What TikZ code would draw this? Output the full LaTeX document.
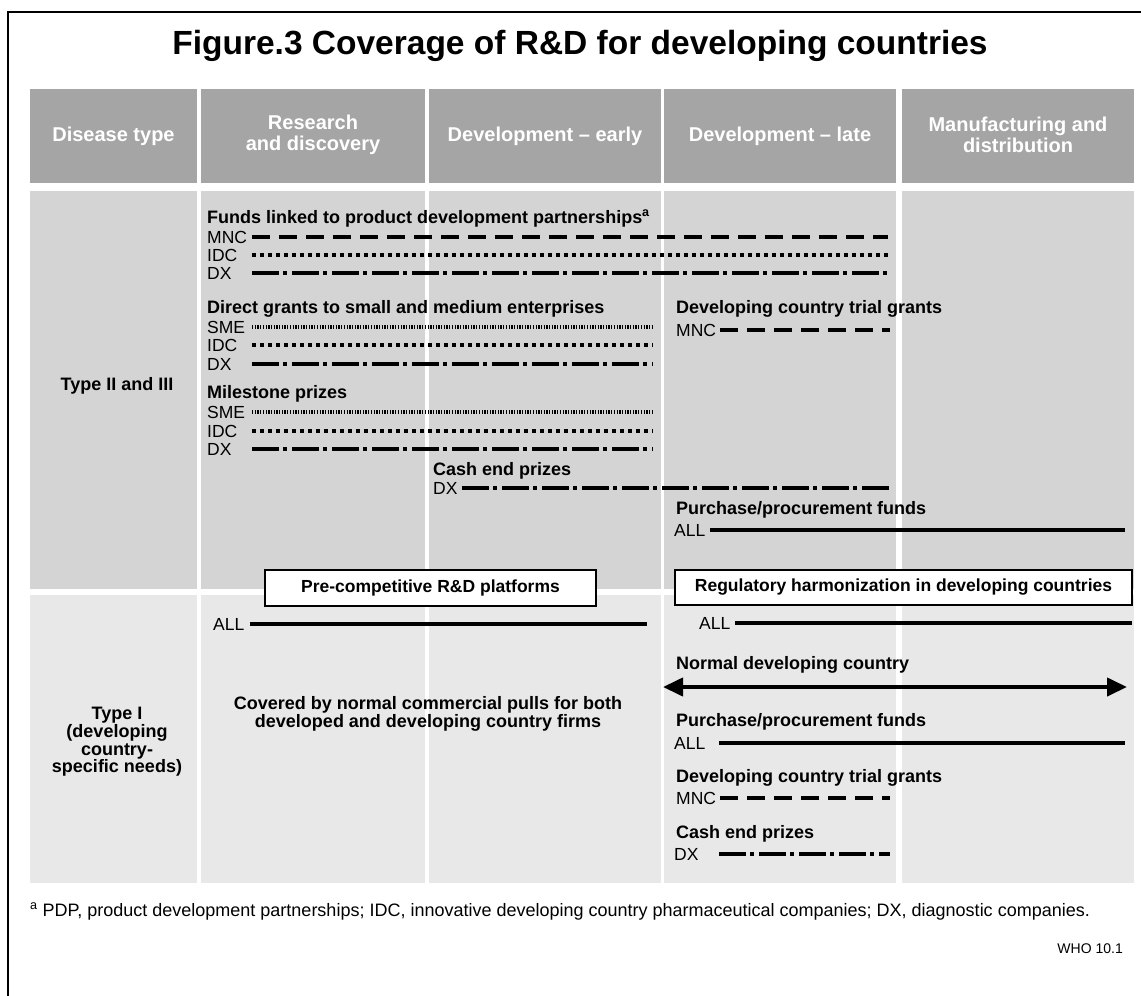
\documentclass[tikz,border=0pt]{standalone}
\usepackage{fontspec}
\setmainfont{Liberation Sans}
\usetikzlibrary{arrows.meta}
\definecolor{hdrgray}{HTML}{A5A5A5}
\definecolor{midgray}{HTML}{D4D4D4}
\definecolor{palegray}{HTML}{E8E8E8}
\tikzset{
  cellhead/.style={fill=hdrgray},
  celltwo/.style={fill=midgray},
  cellone/.style={fill=palegray},
  hdtext/.style={text=white,align=center,inner sep=0pt,font=\fontsize{20}{21.5}\selectfont\bfseries},
  rowtext/.style={align=center,inner sep=0pt,font=\fontsize{18}{17.7}\selectfont\bfseries},
  grptitle/.style={anchor=base west,inner sep=0pt,font=\fontsize{18}{20}\selectfont\bfseries},
  lab/.style={anchor=west,inner sep=0pt,font=\fontsize{17.5}{20}\selectfont},
  mncline/.style={line width=4pt,dash pattern=on 18pt off 9pt},
  idcline/.style={line width=4pt,dash pattern=on 4pt off 4pt},
  smeline/.style={line width=4pt,dash pattern=on 1.3pt off 1.4pt},
  dxline/.style={line width=4pt,dash pattern=on 27pt off 4pt on 4pt off 5pt},
  allline/.style={line width=4pt},
  platbox/.style={draw,line width=2.5pt,fill=white,inner sep=0pt,font=\fontsize{17.5}{20}\selectfont\bfseries}
}
\begin{document}
\begin{tikzpicture}[x=1pt,y=-1pt]
	\useasboundingbox[fill=white] (0,0) rectangle (1141,996);
	% frame and title
	\draw[line width=2pt] (8,996) -- (8,12) -- (1141,12);
	\node[anchor=base,inner sep=0pt,font=\fontsize{33.5}{36}\selectfont\bfseries] (ttl) at (580,54) {Figure.3 Coverage of R\&D for developing countries};
	% table cells
	\foreach \xa/\xb in {30/197,201/425,429/661,664/896,902/1134} {
		\fill[cellhead] (\xa,89) rectangle (\xb,183);
		\fill[celltwo] (\xa,191) rectangle (\xb,589);
		\fill[cellone] (\xa,595) rectangle (\xb,883);
	}
	\node[hdtext] (hdis) at (113.5,136) {Disease type};
	\node[hdtext] (hres) at (313,135) {Research\\and discovery};
	\node[hdtext] (hearly) at (545,136) {Development -- early};
	\node[hdtext] (hlate) at (780,136) {Development -- late};
	\node[hdtext] (hman) at (1018,135) {Manufacturing and\\distribution};
	\node[rowtext,anchor=base] (rtwo) at (117,390) {Type II and III};
	\node[rowtext] (rone) at (117,742) {Type I\\(developing\\country-\\specific needs)};

	% Type II and III
	\node[grptitle] (gfunds) at (207,223) {Funds linked to product development partnerships\textsuperscript{a}};
	\node[lab] (fmnc) at (207,237) {MNC};
	\node[lab] (fidc) at (207,255) {IDC};
	\node[lab] (fdx) at (207,273) {DX};
	\draw[mncline] (fmnc -| 252,0) -- (fmnc -| 888,0);
	\draw[idcline] (fidc -| 252,0) -- (fidc -| 888,0);
	\draw[dxline] (fdx -| 252,0) -- (fdx -| 888,0);

	\node[grptitle] (ggrant) at (207,313) {Direct grants to small and medium enterprises};
	\node[lab] (gsme) at (207,327) {SME};
	\node[lab] (gidc) at (207,345) {IDC};
	\node[lab] (gdx) at (207,364) {DX};
	\draw[smeline] (gsme -| 252,0) -- (gsme -| 653,0);
	\draw[idcline] (gidc -| 252,0) -- (gidc -| 653,0);
	\draw[dxline] (gdx -| 252,0) -- (gdx -| 653,0);

	\node[grptitle] (gmile) at (207,398) {Milestone prizes};
	\node[lab] (msme) at (207,412) {SME};
	\node[lab] (midc) at (207,431) {IDC};
	\node[lab] (mdx) at (207,449) {DX};
	\draw[smeline] (msme -| 252,0) -- (msme -| 653,0);
	\draw[idcline] (midc -| 252,0) -- (midc -| 653,0);
	\draw[dxline] (mdx -| 252,0) -- (mdx -| 653,0);

	\node[grptitle] (gcash) at (433,475) {Cash end prizes};
	\node[lab] (cdx) at (433,488) {DX};
	\draw[dxline] (cdx -| 462,0) -- (cdx -| 890,0);

	\node[grptitle] (gtrial) at (676,313) {Developing country trial grants};
	\node[lab] (tmnc) at (676,330) {MNC};
	\draw[mncline] (tmnc -| 720,0) -- (tmnc -| 890,0);

	\node[grptitle] (gbuy) at (676,514) {Purchase/procurement funds};
	\node[lab] (ball) at (674,530) {ALL};
	\draw[allline] (ball -| 710,0) -- (ball -| 1125,0);

	% Type I
	\node[platbox,minimum width=331pt,minimum height=36pt] (preplat) at (430.5,588) {Pre-competitive R\&D platforms};
	\node[platbox,minimum width=457pt,minimum height=35pt] (regharm) at (903.5,587.5) {Regulatory harmonization in developing countries};
	\node[lab] (pall) at (213,624) {ALL};
	\draw[allline] (pall -| 250,0) -- (pall -| 647,0);
	\node[lab] (rall) at (699,623) {ALL};
	\draw[allline] (rall -| 735,0) -- (rall -| 1132,0);

	\node[rowtext] (covered) at (428,714) {Covered by normal commercial pulls for both\\developed and developing country firms};

	\node[grptitle] (gnormal) at (676,669) {Normal developing country};
	\coordinate (nleft) at (663,687);
	\coordinate (nright) at (1127,687);
	\draw[line width=4pt,{Triangle[length=20pt,width=18pt]}-{Triangle[length=20pt,width=18pt]}] (nleft) -- (nright);

	\node[grptitle] (gbuy2) at (676,726) {Purchase/procurement funds};
	\node[lab] (ball2) at (674,743) {ALL};
	\draw[allline] (ball2 -| 719,0) -- (ball2 -| 1125,0);

	\node[grptitle] (gtrial2) at (676,782) {Developing country trial grants};
	\node[lab] (tmnc2) at (676,798) {MNC};
	\draw[mncline] (tmnc2 -| 720,0) -- (tmnc2 -| 890,0);

	\node[grptitle] (gcash2) at (676,838) {Cash end prizes};
	\node[lab] (cdx2) at (674,854) {DX};
	\draw[dxline] (cdx2 -| 719,0) -- (cdx2 -| 890,0);

	% notes
	\node[anchor=base west,inner sep=0pt,font=\fontsize{18}{20}\selectfont] (fnote) at (30,916) {\textsuperscript{a} PDP, product development partnerships; IDC, innovative developing country pharmaceutical companies; DX, diagnostic companies.};
	\node[anchor=base east,inner sep=0pt,font=\fontsize{14}{16}\selectfont] (whoref) at (1123,953) {WHO 10.1};
\end{tikzpicture}
\end{document}
